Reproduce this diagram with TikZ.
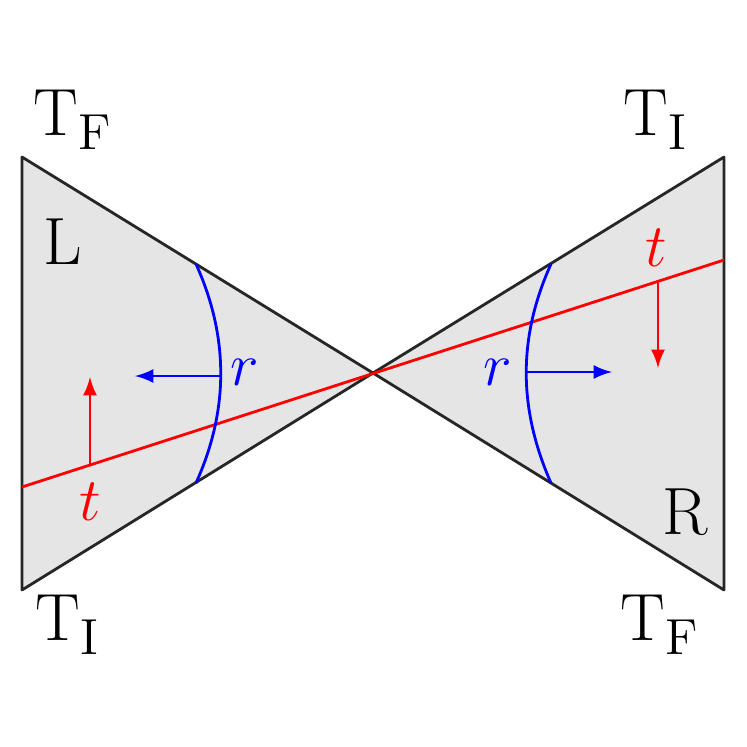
\documentclass[tikz,border=0pt]{standalone}
\usetikzlibrary{arrows}
\begin{document}
\begin{tikzpicture}[x=0.01cm,y=-0.01cm,>=latex,thick,
                    every node/.style={font=\fontsize{19}{22}\selectfont}]
  \tikzstyle{cone}=[draw=black!85,fill=black!10,line join=round]
  \useasboundingbox (0,0) rectangle (747,747);

  \coordinate (O) at (373,373);
  \coordinate (LT) at (22,157);
  \coordinate (LB) at (22,590);
  \coordinate (RT) at (724,157);
  \coordinate (RB) at (724,590);

  \draw[cone] (LT) -- (O) -- (LB) -- cycle;
  \draw[cone] (RT) -- (O) -- (RB) -- cycle;

  % time line
  \coordinate (tl) at (22,487);
  \coordinate (tr) at (724,260);
  \draw[red] (tl) -- (tr);

  % radial arcs
  \draw[blue] (196,264) .. controls (229,337) and (229,410) .. (196,483);
  \draw[blue] (551,264) .. controls (518,337) and (518,408) .. (551,483);

  \node (rl) at (245,372) {\color{blue}$r$};
  \node (rr) at (498,372) {\color{blue}$r$};
  \node (tL) at (90,502) {\color{red}$t$};
  \node (tR) at (656,248) {\color{red}$t$};
  \coordinate (al) at (220,376);
  \coordinate (ar) at (525,372);
  \coordinate (bl) at (90,465);
  \coordinate (br) at (658,283);
  \draw[->,blue] (al) -- (135,376);
  \draw[->,blue] (ar) -- (612,372);
  \draw[->,red] (bl) -- (90,377);
  \draw[->,red] (br) -- (658,368);

  \node (TFl) at (73,120) {T$_{\mathrm{F}}$};
  \node (TIr) at (656,120) {T$_{\mathrm{I}}$};
  \node (TIl) at (68,625) {T$_{\mathrm{I}}$};
  \node (TFr) at (660,625) {T$_{\mathrm{F}}$};
  \node (L) at (63,242) {L};
  \node (R) at (685,512) {R};
\end{tikzpicture}
\end{document}
